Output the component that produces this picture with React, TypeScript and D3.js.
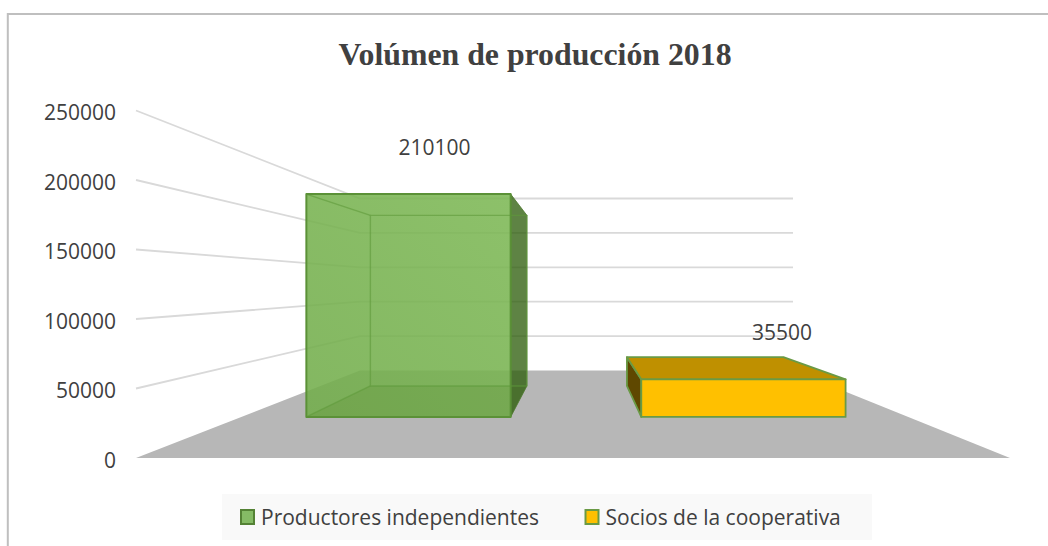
import React from "react";
import * as d3 from "d3";

const categories = ["Productores independientes", "Socios de la cooperativa"];
const values = [210100, 35500];
const ticks = [0, 50000, 100000, 150000, 200000, 250000];
const title = "Volúmen de producción 2018";

// perspective projection: u = across (0..1), t = depth (0 front..1 back), v = value
const floorY = d3.scaleLinear().domain([0, 1]).range([458, 370.5]);
const wallH = d3.scaleLinear().domain([0, 1]).range([347.5, 172]);
const leftX = d3.scaleLinear().domain([0, 1]).range([136, 360]);
const rightX = d3.scaleLinear().domain([0, 1]).range([1010, 793]);
const val = d3.scaleLinear().domain([0, 250000]).range([0, 1]);
const px = (u: number, t: number) => d3.interpolateNumber(leftX(t), rightX(t))(u);
const py = (v: number, t: number) => floorY(t) - val(v) * wallH(t);
const P = (u: number, t: number, v: number): [number, number] => [px(u, t), py(v, t)];
const poly = (pts: [number, number][]) => (d3.line()(pts) ?? "") + "Z";

const band = d3.scaleBand<number>().domain([0, 1]).range([0, 1.004]).paddingInner(0.39).paddingOuter(0.195);
const T0 = 0.469, T1 = 0.823;
const FONT = "'Open Sans', sans-serif";
const INK = "#404040";

function GreenBar() {
  const v = values[0];
  const a = band(0)!, b = a + band.bandwidth();
  const line = "#5f9a3a";
  return (
    <g strokeLinejoin="round">
      <path d={poly([P(a, T0, 0), P(b, T0, 0), P(b, T0, v), P(a, T0, v)])} fill="url(#greenFront)" fillOpacity={0.88} />
      <path d={poly([P(a, T0, 0), P(b, T0, 0), P(b, T1, 0), P(a, T1, 0)])} fill="#3f6f12" fillOpacity={0.13} />
      <path d={poly([P(b, T0, 0), P(b, T1, 0), P(b, T1, v), P(b, T0, v)])} fill="#2e5e0c" fillOpacity={0.77} stroke="#4f7a30" strokeWidth={0.8} />
      <g fill="none" stroke={line} strokeWidth={1.4} strokeOpacity={0.6}>
        <path d={poly([P(a, T1, 0), P(b, T1, 0), P(b, T1, v), P(a, T1, v)])} />
        <path d={d3.line()([P(a, T0, v), P(a, T1, v)]) ?? ""} />
        <path d={d3.line()([P(a, T0, 0), P(a, T1, 0)]) ?? ""} />
      </g>
      <path d={poly([P(a, T0, 0), P(b, T0, 0), P(b, T0, v), P(a, T0, v)])} fill="none" stroke="#5b9137" strokeWidth={2} />
    </g>
  );
}

function GoldBar() {
  const v = values[1];
  const a = band(1)!, b = a + band.bandwidth();
  return (
    <g strokeLinejoin="round" stroke="#6a9a45" strokeWidth={1.8}>
      <path d={poly([P(a, T0, 0), P(a, T1, 0), P(a, T1, v), P(a, T0, v)])} fill="#5f4800" />
      <path d={poly([P(a, T0, v), P(b, T0, v), P(b, T1, v), P(a, T1, v)])} fill="#BF9000" />
      <path d={poly([P(a, T0, 0), P(b, T0, 0), P(b, T0, v), P(a, T0, v)])} fill="#FFC000" />
    </g>
  );
}

export default function App() {
  return (
    <svg width={1048} height={546} style={{ position: "fixed", left: 0, top: 0, background: "#fff" }}>
      <defs>
        <linearGradient id="greenFront" x1="0" y1="1" x2="1" y2="0">
          <stop offset="0" stopColor="#72ad4b" />
          <stop offset="1" stopColor="#7db855" />
        </linearGradient>
      </defs>
      <path d="M7.8,546V14H1048" fill="none" stroke="#bfbfbf" strokeWidth={2} />
      <text x={535} y={65} textAnchor="middle" fontFamily="'Liberation Serif', serif" fontWeight="bold" fontSize={31.8} fill={INK}>{title}</text>
      {ticks.map((t) => (
        <g key={t}>
          {t > 0 && (
            <path d={d3.line()([P(0, 0, t), P(0, 1, t), P(1, 1, t)]) ?? ""} fill="none" stroke="#d9d9d9" strokeWidth={1.8} />
          )}
          <text x={116} y={py(t, 0) + 9.5} textAnchor="end" fontFamily={FONT} fontSize={21} fill={INK}>{t}</text>
        </g>
      ))}
      <path d={poly([P(0, 0, 0), P(1, 0, 0), P(1, 1, 0), P(0, 1, 0)])} fill="#b7b7b7" />
      <GreenBar />
      <GoldBar />
      <text x={434.5} y={155} textAnchor="middle" fontFamily={FONT} fontSize={21} fill={INK}>{values[0]}</text>
      <text x={782} y={340} textAnchor="middle" fontFamily={FONT} fontSize={21} fill={INK}>{values[1]}</text>
      <rect x={222} y={494} width={650} height={46} fill="#f9f9f9" />
      {categories.map((c, i) => {
        const x = [241, 585.5][i];
        return (
          <g key={c}>
            <rect x={x} y={510} width={13} height={14} fill={["#85bb65", "#FFC000"][i]} stroke={["#548235", "#6a9a45"][i]} strokeWidth={2} />
            <text x={x + 20} y={525} fontFamily={FONT} fontSize={21} fill={INK}>{c}</text>
          </g>
        );
      })}
    </svg>
  );
}
